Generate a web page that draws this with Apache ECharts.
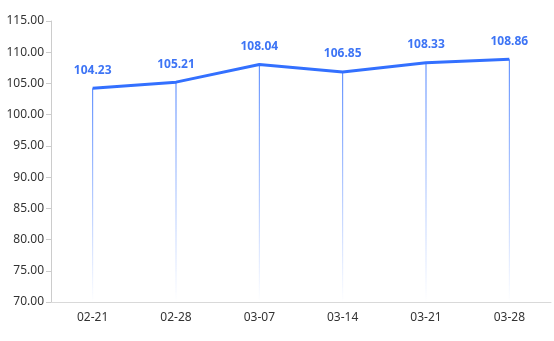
<!DOCTYPE html>
<html><head><meta charset="utf-8">
<script src="https://cdn.jsdelivr.net/npm/echarts@6/dist/echarts.min.js"></script>
<style>html,body{margin:0;padding:0;background:#fff}#c{width:554px;height:341px}</style>
</head><body><div id="c"></div>
<script>
var categories = ['02-21','02-28','03-07','03-14','03-21','03-28'];
var values = [104.23, 105.21, 108.04, 106.85, 108.33, 108.86];
var yMin = 70, yMax = 115, yInterval = 5;

var chart = echarts.init(document.getElementById('c'));
chart.setOption({
  animation: false,
  grid: {left: 51, right: 3, top: 21, bottom: 39},
  xAxis: {
    type: 'category', data: categories, boundaryGap: true,
    axisLine: {lineStyle: {color: '#d9d9d9'}},
    axisTick: {lineStyle: {color: '#d9d9d9'}},
    axisLabel: {color: '#333', fontSize: 12, margin: 10, fontFamily: 'Noto Sans, sans-serif'}
  },
  yAxis: {
    type: 'value', min: yMin, max: yMax, interval: yInterval,
    axisLine: {show: true, lineStyle: {color: '#cccccc'}},
    axisTick: {show: true, lineStyle: {color: '#cccccc'}},
    splitLine: {show: false},
    axisLabel: {color: '#333', fontSize: 12, margin: 7, fontFamily: 'Noto Sans, sans-serif',
      formatter: function(v){return v.toFixed(2);}}
  },
  series: [
    {
      type: 'bar', data: values, barWidth: 1, silent: true,
      itemStyle: {color: new echarts.graphic.LinearGradient(0,0,0,1,[
        {offset: 0, color: 'rgba(51,112,255,0.9)'},
        {offset: 1, color: 'rgba(51,112,255,0)'}
      ])},
      label: {show: true, position: 'top', distance: 12, color: '#3d74f5',
        fontWeight: 'bold', fontSize: 12, fontFamily: 'Noto Sans, sans-serif',
        formatter: function(p){return Number(p.value).toFixed(2);}}
    },
    {
      type: 'line', data: values, symbol: 'none', z: 5,
      lineStyle: {color: '#3370ff', width: 3}
    }
  ]
});
</script></body></html>
